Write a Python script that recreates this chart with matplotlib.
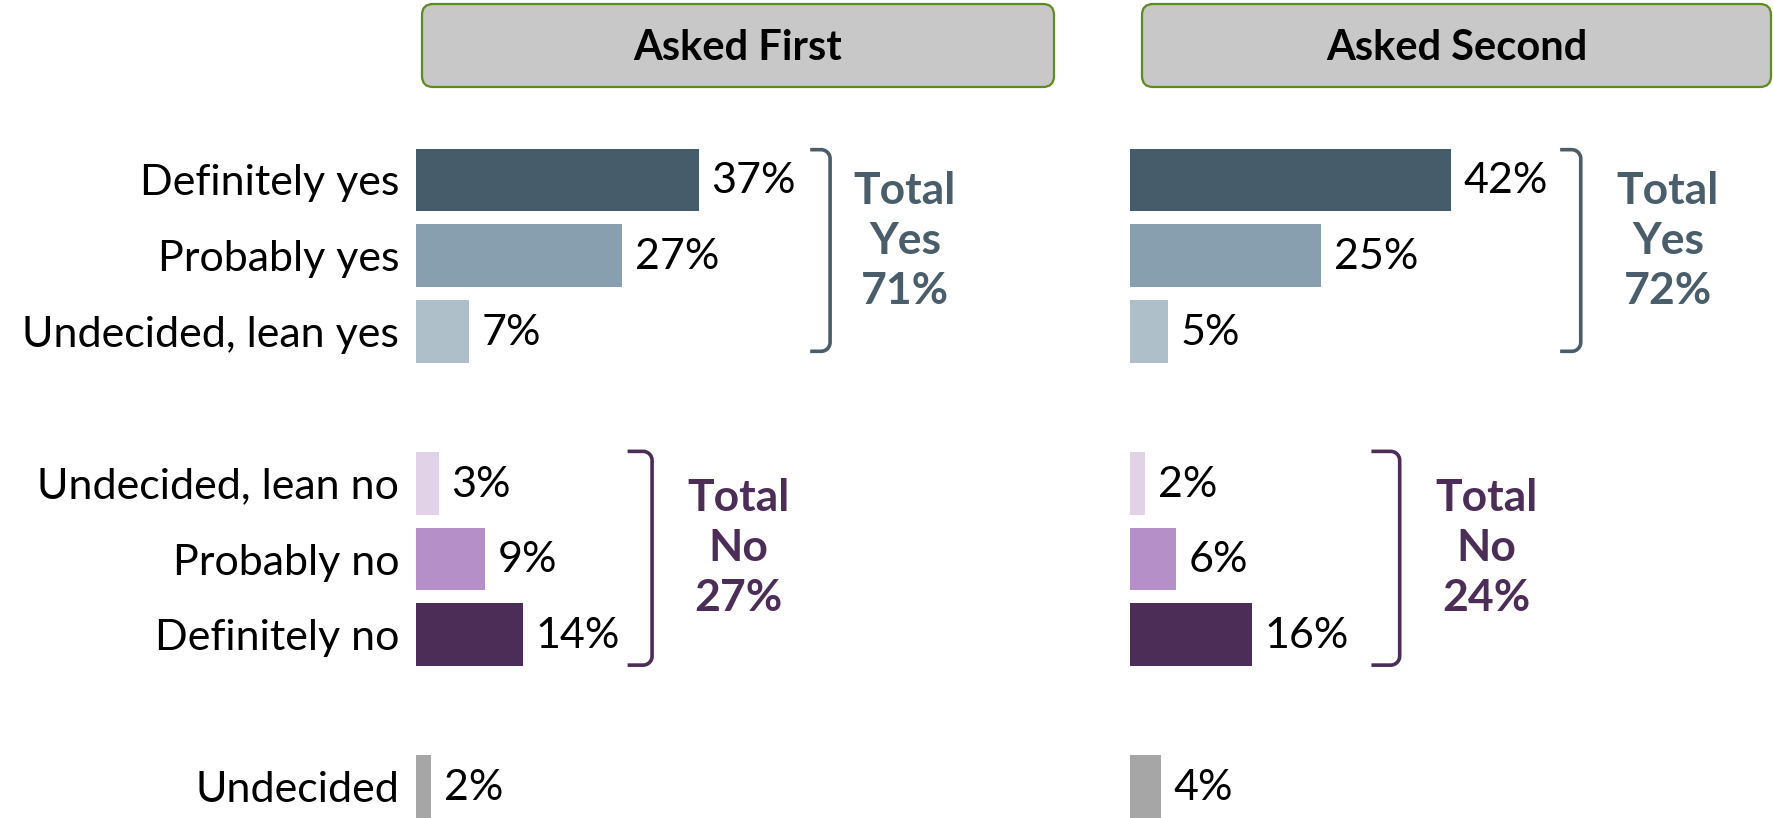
import numpy as np
import matplotlib
matplotlib.use("Agg")
import matplotlib.pyplot as plt
from matplotlib.patches import FancyBboxPatch

plt.rcParams['font.family'] = ['Lato', 'DejaVu Sans']

categories = ["Definitely yes", "Probably yes", "Undecided, lean yes",
              "Undecided, lean no", "Probably no", "Definitely no", "Undecided"]
asked_first = [37, 27, 7, 3, 9, 14, 2]
asked_second = [42, 25, 5, 2, 6, 16, 4]
panel_titles = ["Asked First", "Asked Second"]
total_yes = [71, 72]
total_no = [27, 24]

bar_colors = ["#475C6B", "#879FAF", "#AFBFC9", "#E2D2E7", "#B48FC8", "#4B2D58", "#A6A6A6"]
yes_color = "#4A5D6B"
no_color = "#4B2D58"

# row slots (gaps between the groups)
rows = [0, 1, 2, 4, 5, 6, 8]

W, H = 1773, 818
fig = plt.figure(figsize=(W / 100, H / 100), dpi=100)

# background overlay in pixel units for the header boxes
bg = fig.add_axes([0, 0, 1, 1])
bg.set_xlim(0, W)
bg.set_ylim(H, 0)
bg.axis("off")
for (x0, x1), title in zip([(422, 1054), (1142, 1771)], panel_titles):
    box = FancyBboxPatch((x0, 4), x1 - x0, 83, boxstyle="round,pad=0,rounding_size=11",
                         facecolor="#C8C8C8", edgecolor="#5E8C1F", linewidth=1.6)
    bg.add_patch(box)
    bg.text((x0 + x1) / 2, 48, title, ha="center", va="center",
            fontsize=30, fontweight="bold", color="black")

px_per_pct = 7.64
row_px = 75.8
top_px = 180 - row_px / 2
xmax = 75
ax_h = (H - top_px) / H
ymax = -0.5 + (H - top_px) / row_px


def bracket(ax, x0, x1, y0, y1, color):
    rx, ry = 9 / px_per_pct, 9 / row_px
    t = np.linspace(0, np.pi / 2, 12)
    xs = [x0, x1 - rx]
    ys = [y0, y0]
    xs += list(x1 - rx + rx * np.sin(t))
    ys += list(y0 + ry - ry * np.cos(t))
    xs += list(x1 - rx + rx * np.cos(t))
    ys += list(y1 - ry + ry * np.sin(t))
    xs += [x0]
    ys += [y1]
    ax.plot(xs, ys, color=color, lw=2.6, solid_capstyle="butt", clip_on=False)


panels = [
    (416, asked_first, (51.6, 54.2), (27.7, 30.9), 64.0, 42.2),
    (1130, asked_second, (56.3, 59.0), (31.6, 35.3), 70.4, 46.6),
]

for i, (left_px, values, yb, nb, yes_x, no_x) in enumerate(panels):
    ax = fig.add_axes([left_px / W, 0, xmax * px_per_pct / W, ax_h])
    ax.barh(rows, values, height=0.83, color=bar_colors)
    ax.set_xlim(0, xmax)
    ax.set_ylim(ymax, -0.5)
    for s in ax.spines.values():
        s.set_visible(False)
    ax.set_xticks([])
    ax.set_yticks(rows)
    if i == 0:
        ax.set_yticklabels(categories, fontsize=31)
    else:
        ax.set_yticklabels([])
    ax.tick_params(axis="y", length=0, pad=12)

    for r, v in zip(rows, values):
        ax.annotate(f"{v}%", (v, r), xytext=(9, -1), textcoords="offset points",
                    ha="left", va="center", fontsize=31, color="black")

    bracket(ax, yb[0], yb[1], -0.4, 2.26, yes_color)
    bracket(ax, nb[0], nb[1], 3.58, 6.4, no_color)

    ax.text(yes_x, 0.8, f"Total\nYes\n{total_yes[i]}%", ha="center", va="center",
            fontsize=32, fontweight="bold", color=yes_color, linespacing=1.3, clip_on=False)
    ax.text(no_x, 4.86, f"Total\nNo\n{total_no[i]}%", ha="center", va="center",
            fontsize=32, fontweight="bold", color=no_color, linespacing=1.3, clip_on=False)

fig.savefig("out.png", dpi=100)
